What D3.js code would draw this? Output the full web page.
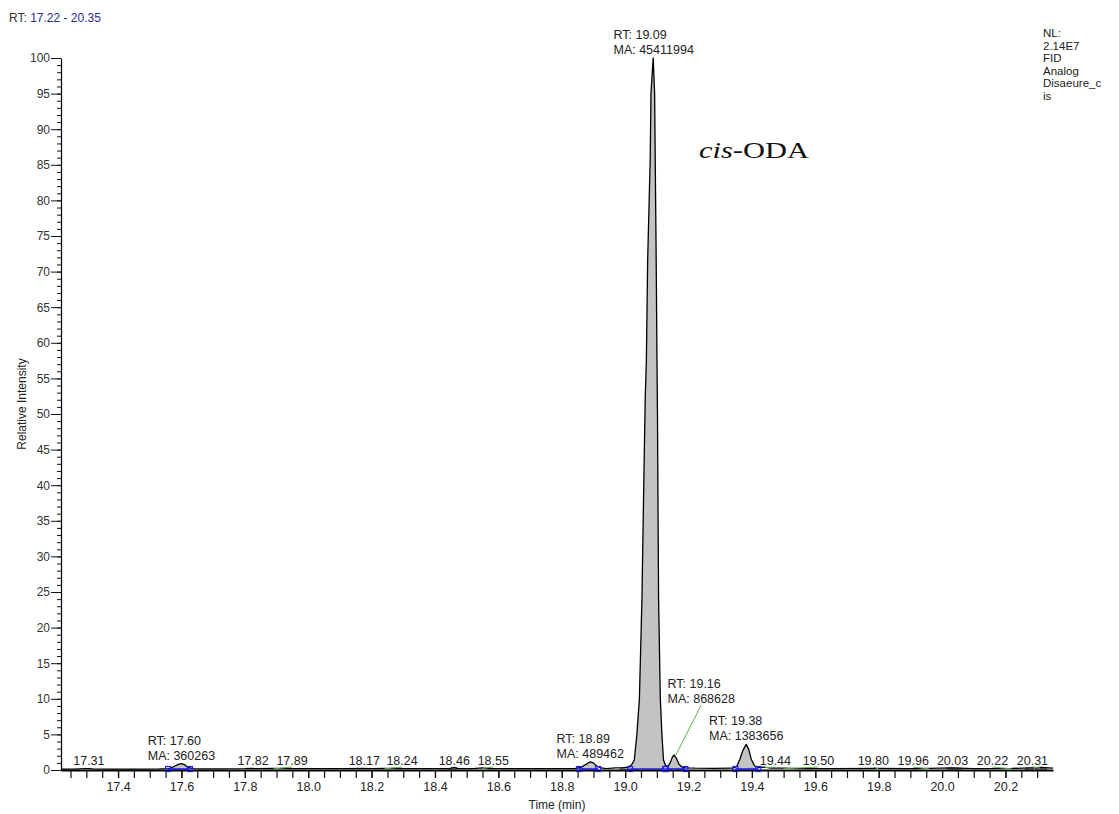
<!DOCTYPE html>
<html>
<head>
<meta charset="utf-8">
<script src="https://cdn.jsdelivr.net/npm/d3@7/dist/d3.min.js"></script>
<style>
  html, body { margin: 0; padding: 0; background: #fff; }
  svg { display: block; }
  svg text { font-family: "Liberation Sans", Arial, sans-serif; fill: #222; }
  svg text.serif { font-family: "Liberation Serif", "DejaVu Serif", serif; fill: #111; }
</style>
</head>
<body>
<svg id="chart" width="1119" height="814"></svg>
<script>
// FID chromatogram trace: retention time (min) and relative intensity (%)
const traceTime = [
  17.22, 17.26, 17.30, 17.31, 17.32, 17.36, 17.42, 17.48, 17.53, 17.56,
  17.575, 17.59, 17.60, 17.61, 17.62, 17.635, 17.66, 17.72, 17.80, 17.82,
  17.84, 17.89, 17.95, 18.05, 18.12, 18.17, 18.20, 18.24, 18.30, 18.40,
  18.445, 18.46, 18.475, 18.52, 18.55, 18.57, 18.65, 18.75, 18.84, 18.86,
  18.875, 18.89, 18.90, 18.91, 18.925, 18.94, 18.97, 18.99, 19.01, 19.02,
  19.029, 19.037, 19.045, 19.053, 19.058, 19.0635, 19.067, 19.071, 19.079, 19.0815,
  19.0885, 19.093, 19.095, 19.098, 19.1005, 19.102, 19.1055, 19.111, 19.116, 19.121,
  19.128, 19.135, 19.142, 19.15, 19.155, 19.162, 19.17, 19.18, 19.19, 19.22,
  19.28, 19.34, 19.352, 19.362, 19.372, 19.382, 19.39, 19.398, 19.408, 19.42,
  19.44, 19.46, 19.50, 19.55, 19.65, 19.80, 19.90, 19.96, 20.03, 20.10,
  20.22, 20.28, 20.31, 20.35
];
const traceIntensity = [
  0.12, 0.12, 0.18, 0.2, 0.15, 0.12, 0.12, 0.12, 0.15, 0.2,
  0.45, 0.8, 0.9, 0.75, 0.4, 0.2, 0.15, 0.15, 0.18, 0.22,
  0.18, 0.22, 0.18, 0.18, 0.18, 0.22, 0.18, 0.22, 0.18, 0.18,
  0.2, 0.35, 0.2, 0.18, 0.3, 0.18, 0.18, 0.18, 0.2, 0.35,
  0.75, 1.15, 1.0, 0.55, 0.3, 0.2, 0.3, 0.3, 0.4, 0.7,
  1.4, 5, 10, 24, 38, 52.5, 57.5, 71.5, 85.6, 95,
  100, 95, 85.6, 71.5, 57.5, 50, 24, 10, 5, 1.4,
  0.6, 0.5, 1.0, 1.9, 2.1, 1.6, 0.8, 0.4, 0.3, 0.25,
  0.22, 0.25, 0.5, 1.5, 2.8, 3.6, 2.9, 1.5, 0.6, 0.35,
  0.4, 0.25, 0.25, 0.2, 0.2, 0.22, 0.2, 0.22, 0.3, 0.2,
  0.22, 0.3, 0.35, 0.25
];

// Integrated peaks: retention time, area, integration window
const peakRT = [17.60, 18.89, 19.09, 19.16, 19.38];
const peakMA = [360263, 489462, 45411994, 868628, 1383656];
const peakStart = [17.558, 18.855, 19.016, 19.128, 19.348];
const peakEnd = [17.627, 18.915, 19.127, 19.19, 19.42];
// label centre (min) and extra lift (px) for the RT/MA labels
const peakLabelAt = [17.60, 18.89, 19.09, 19.24, 19.382];
const peakLabelLift = [0, 0, 0, 48, 0];

// Unintegrated peaks labelled with retention time only
const minorRT = [17.31, 17.82, 17.89, 18.17, 18.24, 18.46, 18.55, 19.44, 19.50, 19.80, 19.96, 20.03, 20.22, 20.31];
const minorLabelAt = [17.308, 17.826, 17.949, 18.177, 18.296, 18.461, 18.584, 19.474, 19.610, 19.783, 19.909, 20.033, 20.159, 20.285];

// Small shaded baseline segments
const shadeStart = [18.445, 18.985, 20.017, 20.263, 20.295];
const shadeEnd = [18.47, 19.015, 20.065, 20.289, 20.33];

// Axis ticks
const xTickLabels = ["17.4", "17.6", "17.8", "18.0", "18.2", "18.4", "18.6", "18.8", "19.0", "19.2", "19.4", "19.6", "19.8", "20.0", "20.2"];
const yTickLabels = [0, 5, 10, 15, 20, 25, 30, 35, 40, 45, 50, 55, 60, 65, 70, 75, 80, 85, 90, 95, 100];
const infoLines = ["NL:", "2.14E7", "FID", "Analog", "Disaeure_c", "is"];

const svg = d3.select("#chart");
const x = d3.scaleLinear().domain([17.22, 20.35]).range([61, 1053]);
const y = d3.scaleLinear().domain([0, 100]).range([770, 58]);

const trace = traceTime.map((t, i) => ({ t, v: traceIntensity[i] }));
const valueAt = t => {
  const i = d3.bisector(d => d.t).left(trace, t);
  if (i <= 0) return trace[0].v;
  if (i >= trace.length) return trace[trace.length - 1].v;
  const a = trace[i - 1], b = trace[i];
  return a.v + (b.v - a.v) * (t - a.t) / (b.t - a.t);
};
const segment = (t0, t1) => [{ t: t0, v: valueAt(t0) }]
  .concat(trace.filter(d => d.t > t0 && d.t < t1))
  .concat([{ t: t1, v: valueAt(t1) }]);

const area = d3.area().x(d => x(d.t)).y0(y(0)).y1(d => y(d.v));
const line = d3.line().x(d => x(d.t)).y(d => y(d.v));

// Shaded areas
const fills = svg.append("g");
shadeStart.forEach((s, i) => {
  fills.append("path").attr("d", area(segment(s, shadeEnd[i])))
    .attr("fill", "#9a9a9a").attr("stroke", "#555").attr("stroke-width", 0.6);
});
peakStart.forEach((s, i) => {
  fills.append("path").attr("d", area(segment(s, peakEnd[i])))
    .attr("fill", "#c3c3c3");
});

// Axes
const xMinor = d3.range(17.25, 20.349, 0.05);
const xAxis = svg.append("g").attr("transform", `translate(0,${y(0)})`);
xAxis.call(d3.axisBottom(x).tickValues(xMinor).tickSize(8).tickSizeOuter(0).tickFormat(""));
xAxis.call(g => g.select(".domain").attr("stroke-width", 2.2).attr("stroke", "#000"));
xAxis.selectAll(".tick line").attr("stroke", "#111").attr("stroke-width", 1.2);

const xLab = svg.append("g").attr("transform", `translate(0,${y(0)})`)
  .call(d3.axisBottom(x).tickValues(xTickLabels.map(Number)).tickSize(8).tickPadding(4)
    .tickFormat((d, i) => xTickLabels[i]));
xLab.select(".domain").remove();
xLab.selectAll(".tick line").attr("stroke", "#111").attr("stroke-width", 1.2);
xLab.selectAll("text").attr("font-size", 12.5);

const yMinor = d3.range(0, 101, 1);
const yAxis = svg.append("g").attr("transform", `translate(${x(17.22)},0)`)
  .call(d3.axisLeft(y).tickValues(yMinor).tickSize(4).tickSizeOuter(0).tickFormat(""));
yAxis.select(".domain").attr("stroke", "#000").attr("stroke-width", 1.2);
yAxis.selectAll(".tick line").attr("stroke", "#111");
const yLab = svg.append("g").attr("transform", `translate(${x(17.22)},0)`)
  .call(d3.axisLeft(y).tickValues(yTickLabels).tickSize(10).tickPadding(1));
yLab.select(".domain").remove();
yLab.selectAll(".tick line").attr("stroke", "#111");
yLab.selectAll("text").attr("font-size", 12).style("fill", "#333");

// Trace
svg.append("path").attr("d", line(trace))
  .attr("fill", "none").attr("stroke", "#000").attr("stroke-width", 1.3)
  .attr("stroke-linejoin", "round");

// Integration baselines and markers
const blue = "#1c1ce6";
peakStart.forEach((s, i) => {
  const e = peakEnd[i];
  svg.append("line")
    .attr("x1", x(s)).attr("y1", y(0) - 1).attr("x2", x(e)).attr("y2", y(0) - 1)
    .attr("stroke", blue).attr("stroke-width", 1.6);
  [s, e].forEach(t => {
    svg.append("rect").attr("x", x(t) - 2.5).attr("y", y(0) - 3.5)
      .attr("width", 5).attr("height", 5)
      .attr("fill", "none").attr("stroke", blue).attr("stroke-width", 1.2);
  });
});

// Peak labels
const green = "#5fae4f";
const labels = svg.append("g").attr("font-size", 12.5);
const apex = (t0, t1) => d3.max(segment(t0, t1), d => d.v);

peakRT.forEach((rt, i) => {
  const top = apex(peakStart[i], peakEnd[i]);
  const cx = x(peakLabelAt[i]);
  const base = y(top) - 4 - peakLabelLift[i];
  const t = labels.append("text").attr("x", cx).attr("y", base - 15).attr("text-anchor", "middle");
  t.text(`RT: ${rt.toFixed(2)}`);
  const w = labels.append("text").attr("x", cx).attr("y", base).attr("text-anchor", "middle")
    .text(`MA: ${peakMA[i]}`);
  // left-align the two lines on a common edge
  const bw = w.node().getComputedTextLength();
  t.attr("x", cx - bw / 2).attr("text-anchor", "start");
  w.attr("x", cx - bw / 2).attr("text-anchor", "start");
  if (Math.abs(cx - x(rt)) > 4) {
    svg.append("line").attr("x1", x(rt)).attr("y1", y(top))
      .attr("x2", cx).attr("y2", base + 2)
      .attr("stroke", green).attr("stroke-width", 1);
  }
});

minorRT.forEach((rt, i) => {
  const top = valueAt(rt);
  const cx = x(minorLabelAt[i]);
  const base = y(0) - 5;
  labels.append("text").attr("x", cx).attr("y", base).attr("text-anchor", "middle")
    .text(rt.toFixed(2));
  if (Math.abs(cx - x(rt)) > 3) {
    svg.append("line").attr("x1", x(rt)).attr("y1", y(top) + 0.5)
      .attr("x2", cx).attr("y2", base + 2)
      .attr("stroke", green).attr("stroke-width", 1);
  }
});

// Axis titles
svg.append("text").attr("x", (x(17.22) + x(20.35)) / 2).attr("y", 809)
  .attr("text-anchor", "middle").attr("font-size", 12).text("Time (min)");
svg.append("text").attr("transform", `translate(26,${(y(0) + y(100)) / 2 - 10}) rotate(-90)`)
  .attr("text-anchor", "middle").attr("font-size", 12).text("Relative Intensity");

// Range header
const hdr = svg.append("text").attr("x", 9).attr("y", 22).attr("font-size", 12);
hdr.append("tspan").style("fill", "#333").text("RT: ");
hdr.append("tspan").style("fill", "#2b2b8c").text("17.22 - 20.35");

// Trace info block
const info = svg.append("text").attr("x", 1043).attr("y", 37).attr("font-size", 11.5);
infoLines.forEach((s, i) => {
  info.append("tspan").attr("x", 1043).attr("dy", i === 0 ? 0 : 12.6).text(s);
});

// Compound annotation
const cmp = svg.append("text").attr("class", "serif").attr("x", 699).attr("y", 158)
  .attr("font-size", 23)
  .attr("textLength", 110).attr("lengthAdjust", "spacingAndGlyphs");
cmp.append("tspan").attr("font-style", "italic").text("cis");
cmp.append("tspan").text("-ODA");
</script>
</body>
</html>
